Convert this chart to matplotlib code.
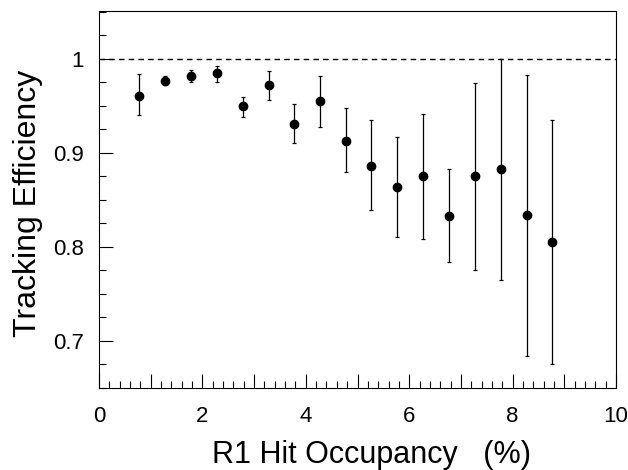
import numpy as np
import matplotlib
matplotlib.use("Agg")
import matplotlib.pyplot as plt
from matplotlib.ticker import MultipleLocator, FuncFormatter

plt.rcParams['font.family'] = ['Liberation Sans', 'DejaVu Sans']

# R1 hit occupancy (%) bin centres and tracking efficiency
occupancy = [0.78, 1.28, 1.78, 2.28, 2.78, 3.28, 3.78, 4.27, 4.77,
             5.27, 5.77, 6.27, 6.77, 7.27, 7.77, 8.27, 8.77]
efficiency = [0.961, 0.977, 0.982, 0.985, 0.950, 0.972, 0.931, 0.955, 0.913,
              0.886, 0.864, 0.875, 0.833, 0.875, 0.883, 0.834, 0.805]
err_high = [0.984, 0.982, 0.988, 0.993, 0.960, 0.987, 0.952, 0.982, 0.948,
            0.935, 0.917, 0.941, 0.883, 0.974, 1.000, 0.983, 0.935]
err_low = [0.940, 0.972, 0.975, 0.976, 0.938, 0.956, 0.911, 0.928, 0.880,
           0.839, 0.811, 0.808, 0.784, 0.776, 0.765, 0.684, 0.676]

eff = np.array(efficiency)
yerr = [eff - np.array(err_low), np.array(err_high) - eff]

fig = plt.figure(figsize=(6.28, 4.70), dpi=100)
ax = fig.add_axes([0.1576, 0.1745, 0.981 - 0.1576, 0.9766 - 0.1745])

ax.axhline(1.0, color="black", lw=1.0, dashes=(4, 3), zorder=1)
ax.errorbar(occupancy, efficiency, yerr=yerr, fmt="o", color="black",
            ms=6, ecolor="black", elinewidth=0.9, capsize=1.6, capthick=0.9,
            zorder=3)

ax.set_xlim(0, 10)
ax.set_ylim(0.65, 1.051)

ax.xaxis.set_major_locator(MultipleLocator(1))
ax.xaxis.set_minor_locator(MultipleLocator(0.2))
ax.xaxis.set_major_formatter(FuncFormatter(
    lambda v, p: "%d" % round(v) if round(v) % 2 == 0 else ""))
ax.yaxis.set_major_locator(MultipleLocator(0.1))
ax.yaxis.set_minor_locator(MultipleLocator(0.025))
ax.yaxis.set_major_formatter(FuncFormatter(lambda v, p: "%g" % round(v, 2)))

ax.tick_params(which="both", direction="in", top=False, right=False, width=0.8)
ax.tick_params(which="major", length=10, labelsize=16)
ax.tick_params(which="minor", length=5)
ax.tick_params(axis="x", which="major", pad=13)
ax.tick_params(axis="y", which="major", pad=11)

for s in ax.spines.values():
    s.set_linewidth(0.8)

ax.set_xlabel("R1 Hit Occupancy   (%)", fontsize=22, va="baseline")
ax.set_ylabel("Tracking Efficiency", fontsize=23)
ax.xaxis.set_label_coords(0.527, -0.199)
ax.yaxis.set_label_coords(-0.108, 0.49)

fig.savefig("out.png", dpi=100)
